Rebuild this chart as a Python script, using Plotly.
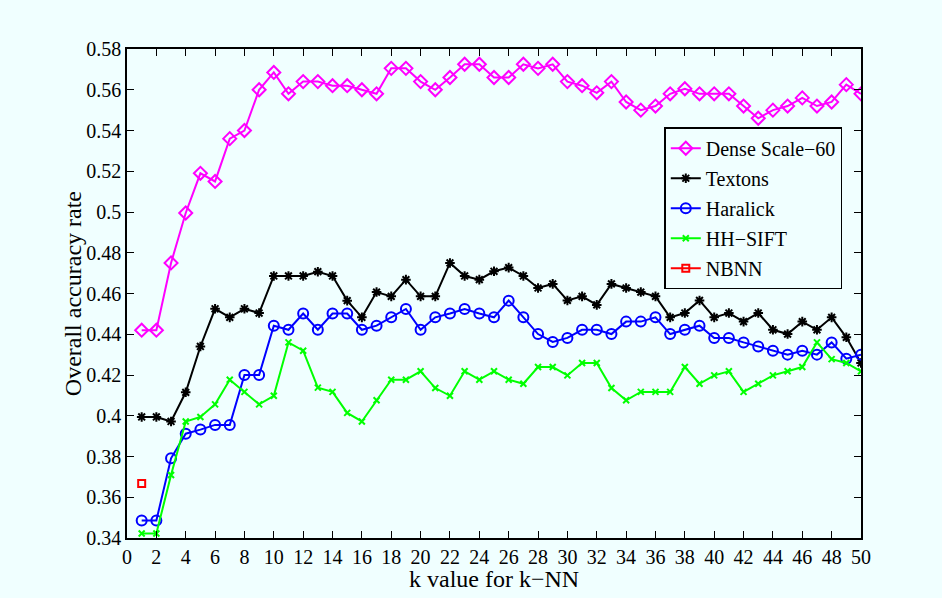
import plotly.graph_objects as go

# k values for k-NN
k = list(range(1, 51))

dense_scale60 = [0.442, 0.442, 0.475, 0.4995, 0.519, 0.515, 0.536, 0.540, 0.560, 0.5685,
                 0.558, 0.564, 0.564, 0.562, 0.562, 0.560, 0.558, 0.5705, 0.5705, 0.564,
                 0.560, 0.566, 0.5725, 0.5725, 0.566, 0.566, 0.5725, 0.5705, 0.5725, 0.564,
                 0.562, 0.5585, 0.564, 0.554, 0.550, 0.552, 0.558, 0.5605, 0.558, 0.558,
                 0.558, 0.552, 0.546, 0.550, 0.552, 0.556, 0.552, 0.554, 0.5625, 0.558]

textons = [0.3994, 0.3994, 0.3972, 0.4115, 0.434, 0.4525, 0.4483, 0.4525, 0.4504, 0.4686,
           0.4686, 0.4686, 0.4707, 0.4686, 0.4565, 0.4483, 0.4607, 0.4586, 0.4668, 0.4586,
           0.4586, 0.475, 0.4686, 0.4668, 0.4709, 0.4727, 0.4686, 0.4627, 0.4647, 0.4566,
           0.4586, 0.4544, 0.4647, 0.4627, 0.4607, 0.4586, 0.4483, 0.4504, 0.4566, 0.4483,
           0.4504, 0.4462, 0.4504, 0.4422, 0.4401, 0.4462, 0.4422, 0.4483, 0.4385, 0.4259]

haralick = [0.3486, 0.3486, 0.3791, 0.3912, 0.3932, 0.3955, 0.3955, 0.420, 0.420, 0.4442,
            0.4422, 0.4502, 0.4422, 0.4502, 0.4502, 0.4422, 0.4442, 0.4483, 0.4524, 0.4422,
            0.4483, 0.4502, 0.4524, 0.4502, 0.4483, 0.4565, 0.4483, 0.4401, 0.4362, 0.4382,
            0.4422, 0.4422, 0.4401, 0.4462, 0.4462, 0.4483, 0.4401, 0.4422, 0.4442, 0.4382,
            0.4382, 0.436, 0.434, 0.4319, 0.430, 0.4319, 0.430, 0.436, 0.428, 0.430]

hh_sift = [0.3422, 0.3422, 0.3709, 0.3972, 0.3994, 0.4056, 0.4177, 0.4117, 0.4056, 0.4098,
           0.436, 0.4319, 0.4138, 0.4117, 0.4014, 0.3972, 0.4076, 0.4177, 0.4177, 0.4218,
           0.4136, 0.4098, 0.4218, 0.4177, 0.4218, 0.4177, 0.4157, 0.4239, 0.4239, 0.4198,
           0.4259, 0.4259, 0.4136, 0.4076, 0.4117, 0.4117, 0.4117, 0.4239, 0.4157, 0.4198,
           0.4218, 0.4117, 0.4157, 0.4198, 0.4218, 0.4239, 0.436, 0.4278, 0.4259, 0.4218]

nbnn_k = [1]
nbnn = [0.3667]

x_ticks = list(range(0, 51, 2))
y_ticks = [0.34, 0.36, 0.38, 0.40, 0.42, 0.44, 0.46, 0.48, 0.50, 0.52, 0.54, 0.56, 0.58]
y_tick_text = ["0.34", "0.36", "0.38", "0.4", "0.42", "0.44", "0.46", "0.48", "0.5",
               "0.52", "0.54", "0.56", "0.58"]

x_title = "k value for k\u2212NN"
y_title = "Overall accuracy rate"

BG = "#F0FFFF"
FONT = "Liberation Serif"

series = [
    ("Dense Scale\u221260", dense_scale60, k, "#FF00FF", "diamond-open", 10, 2),
    ("Textons", textons, k, "#000000", "asterisk-open", 8, 2),
    ("Haralick", haralick, k, "#0000FF", "circle-open", 10, 2),
    ("HH\u2212SIFT", hh_sift, k, "#00FF00", "x-thin-open", 6, 2),
    ("NBNN", nbnn, nbnn_k, "#FF0000", "square-open", 7, 2),
]

fig = go.Figure()
for i, (name, ys, xs, color, symbol, size, lw) in enumerate(series):
    fig.add_trace(go.Scatter(
        x=xs, y=ys, name=name, mode="lines+markers",
        legendgroup=f"g{i}",
        line=dict(color=color, width=2),
        marker=dict(symbol=symbol, size=size, color=color,
                    line=dict(color=color, width=lw)),
    ))

axis_common = dict(
    showline=True, linecolor="black", linewidth=1.5, mirror="ticks",
    ticks="inside", ticklen=7, tickwidth=1, tickcolor="black",
    showgrid=False, zeroline=False,
    tickfont=dict(family=FONT, size=20, color="black"),
)

fig.update_xaxes(range=[0, 50], tickvals=x_ticks, **axis_common)
fig.update_yaxes(range=[0.34, 0.58], tickvals=y_ticks, ticktext=y_tick_text,
                 **axis_common)

# axis titles placed as paper annotations for exact positioning
title_font = dict(family=FONT, size=24, color="black")
fig.add_annotation(text=x_title, xref="paper", yref="paper", x=0.5, y=-0.084,
                   xanchor="center", yanchor="middle", showarrow=False,
                   font=title_font)
fig.add_annotation(text=y_title, xref="paper", yref="paper", x=-0.074, y=0.5,
                   xanchor="center", yanchor="middle", showarrow=False,
                   textangle=-90, font=title_font)

fig.update_layout(
    width=942, height=598,
    margin=dict(l=127, r=81, t=49, b=60),
    paper_bgcolor=BG, plot_bgcolor=BG,
    font=dict(family=FONT, color="black"),
    legend=dict(
        x=0.732, y=0.840, xanchor="left", yanchor="top",
        bgcolor=BG, bordercolor="black", borderwidth=1.5,
        font=dict(family=FONT, size=20, color="black"),
        tracegroupgap=1, traceorder="grouped",
    ),
)

fig.write_html("out.html")
